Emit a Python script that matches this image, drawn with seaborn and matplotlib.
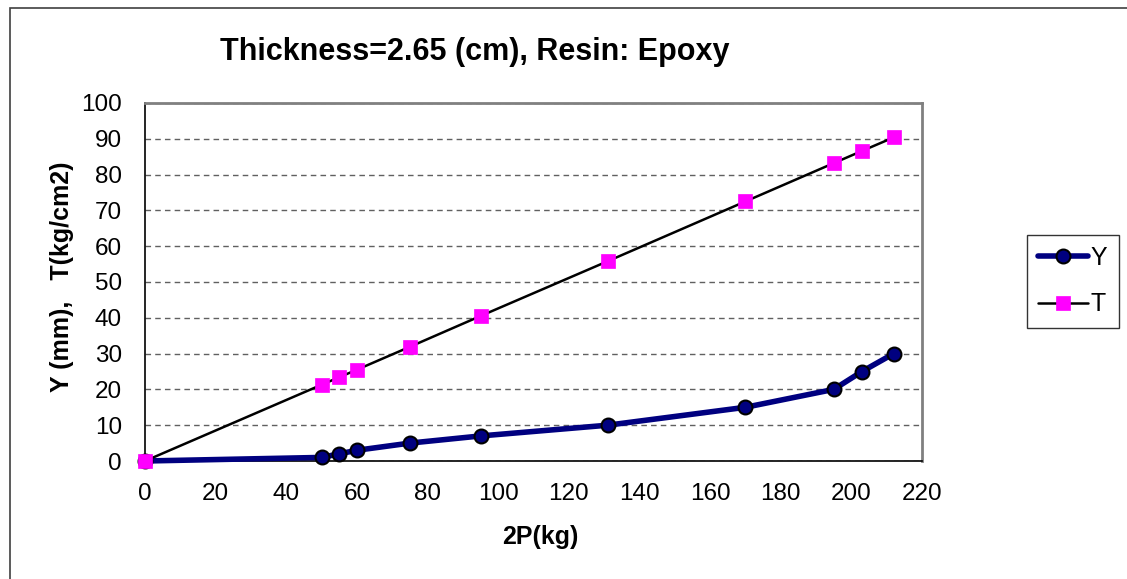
import matplotlib
matplotlib.use("Agg")
import matplotlib.pyplot as plt
from matplotlib.patches import Rectangle
import seaborn as sns
import pandas as pd

# Load on the specimen (2P) and measured responses
load_2p = [0, 50, 55, 60, 75, 95, 131, 170, 195, 203, 212]
y_mm = [0, 1, 2, 3, 5, 7, 10, 15, 20, 25, 30]
t_kgcm2 = [0, 21.3, 23.4, 25.5, 31.9, 40.5, 55.8, 72.5, 83.2, 86.6, 90.4]

x_ticks = list(range(0, 221, 20))
y_ticks = list(range(0, 101, 10))

sns.set_theme(style="white", rc={"text.color": "black", "axes.labelcolor": "black",
                                 "xtick.color": "black", "ytick.color": "black"})
plt.rcParams["font.family"] = ["Liberation Sans", "DejaVu Sans"]

W, H = 1127, 579
fig = plt.figure(figsize=(W / 100, H / 100), dpi=100)
ax = fig.add_axes([145 / W, 1 - 461 / H, (922 - 145) / W, (461 - 103) / H])

df = pd.DataFrame({"2P": load_2p, "Y": y_mm, "T": t_kgcm2})

sns.lineplot(data=df, x="2P", y="Y", ax=ax, color="#000080", linewidth=4,
             marker="o", markersize=10, markerfacecolor="#000080",
             markeredgecolor="black", markeredgewidth=1.5, label="Y", zorder=3,
             clip_on=False)
sns.lineplot(data=df, x="2P", y="T", ax=ax, color="black", linewidth=1.8,
             marker="s", markersize=10, markerfacecolor="#FF00FF",
             markeredgecolor="#FF00FF", markeredgewidth=0.5, label="T", zorder=4,
             clip_on=False)

ax.set_xlim(0, 220)
ax.set_ylim(0, 100)
ax.set_xticks(x_ticks)
ax.set_yticks(y_ticks)
ax.tick_params(axis="both", labelsize=17.5, length=4, width=1, color="#808080",
               labelcolor="black", direction="out")
ax.tick_params(axis="x", pad=11.5)
ax.tick_params(axis="y", pad=12.5)
ax.yaxis.grid(True, linestyle=(0, (4, 3)), color="#606060", linewidth=1)
ax.set_axisbelow(True)

for side in ["top", "right"]:
    ax.spines[side].set_color("#808080")
    ax.spines[side].set_linewidth(2)
for side in ["left", "bottom"]:
    ax.spines[side].set_color("black")
    ax.spines[side].set_linewidth(1.2)

ax.set_xlabel("2P(kg)", fontsize=18, fontweight="bold")
ax.set_ylabel("Y (mm),   T(kg/cm2)", fontsize=18, fontweight="bold")
ax.xaxis.set_label_coords(540 / W, 1 - 537 / H, transform=fig.transFigure)
ax.yaxis.set_label_coords(62 / W, 1 - 277 / H, transform=fig.transFigure)
ax.xaxis.label.set_va("center")
ax.yaxis.label.set_va("center")

fig.text(475 / W, 1 - 52 / H, "Thickness=2.65 (cm), Resin: Epoxy",
         fontsize=22, fontweight="bold", ha="center", va="center")

leg = ax.legend(loc="center left", bbox_to_anchor=(1027 / W, 1 - 281 / H),
                bbox_transform=fig.transFigure, fontsize=18, frameon=True,
                fancybox=False, edgecolor="black", handlelength=2.0,
                handletextpad=0.1, borderpad=0.45, labelspacing=0.9,
                borderaxespad=0)
leg.get_frame().set_linewidth(1)

fig.add_artist(Rectangle((10 / W, -0.05), 1.2, 1.05 - 8 / H,
                         transform=fig.transFigure, fill=False,
                         edgecolor="#404040", linewidth=1.2))

fig.savefig("out.png", dpi=100)
